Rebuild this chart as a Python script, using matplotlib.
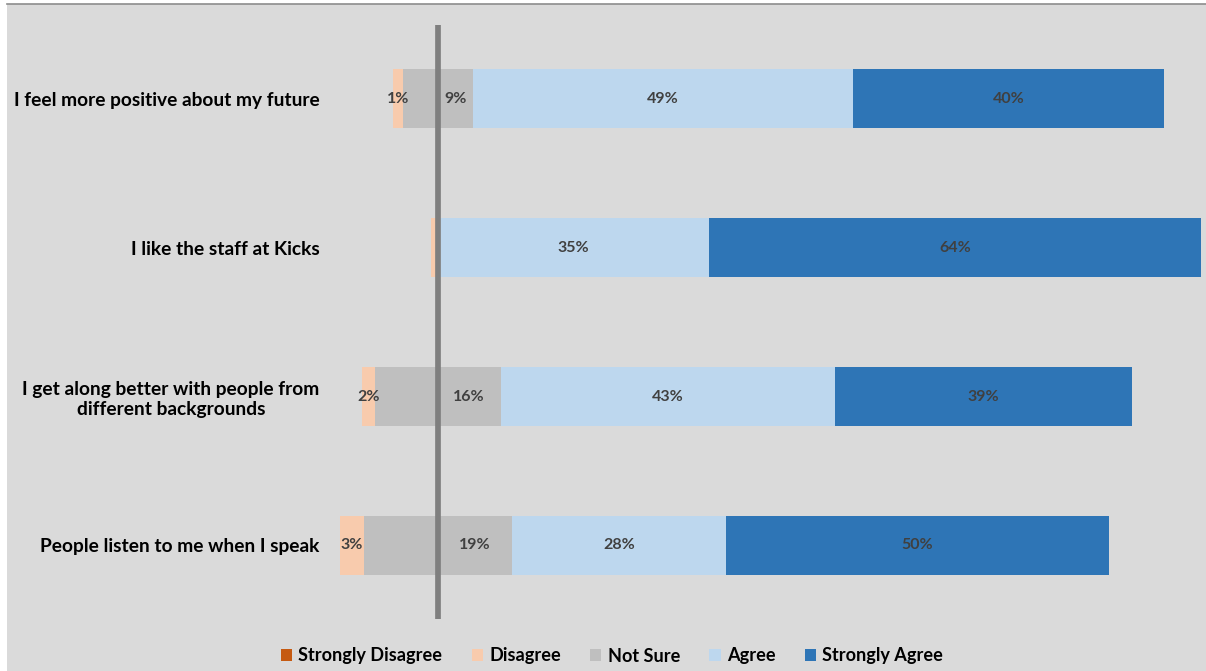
import matplotlib
matplotlib.use("Agg")
import matplotlib.pyplot as plt
from matplotlib.patches import Patch, Rectangle
import numpy as np

categories = [
    "I feel more positive about my future",
    "I like the staff at Kicks",
    "I get along better with people from\ndifferent backgrounds",
    "People listen to me when I speak",
]
series_names = ["Strongly Disagree", "Disagree", "Not Sure", "Agree", "Strongly Agree"]
strongly_disagree = [0.0, 0.0, 0.0, 0.0]
disagree = [1.35, 0.88, 1.73, 3.12]
not_sure = [9.05, 0.0, 16.32, 19.22]
agree = [49.4, 35.16, 43.4, 27.81]
strongly_agree = [40.3, 63.96, 38.6, 49.74]

colors = ["#c55a11", "#f8cbad", "#bfbfbf", "#bdd7ee", "#2e75b6"]
FONT = ["Lato", "DejaVu Sans"]
plt.rcParams["font.family"] = FONT

W, H = 1206, 671
fig = plt.figure(figsize=(W / 100, H / 100), dpi=100, facecolor="white")
# background panel
fig.patches.append(Rectangle((7 / W, 0), 1 - 7 / W, (H - 4) / H, transform=fig.transFigure,
                             facecolor="#dadada", edgecolor="none", zorder=-5))
fig.lines.append(plt.Line2D([7 / W, 1], [(H - 4) / H] * 2, transform=fig.transFigure,
                            color="#8c8c8c", lw=1.2, zorder=-4))

ax = fig.add_axes([335 / W, (H - 619) / H, 871 / W, 594 / H])
ax.set_zorder(3)
ax.set_facecolor("none")
for s in ax.spines.values():
    s.set_visible(False)

y = np.arange(len(categories))
sd = np.array(strongly_disagree)
d = np.array(disagree)
ns = np.array(not_sure)
a = np.array(agree)
sa = np.array(strongly_agree)

h = 0.4
# negative side
left_ns = -ns / 2
left_d = left_ns - d
left_sd = left_d - sd
ax.barh(y, sd, left=left_sd, height=h, color=colors[0], zorder=2)
ax.barh(y, d, left=left_d, height=h, color=colors[1], zorder=2)
ax.barh(y, ns, left=left_ns, height=h, color=colors[2], zorder=2)
ax.barh(y, a, left=ns / 2, height=h, color=colors[3], zorder=2)
ax.barh(y, sa, left=ns / 2 + a, height=h, color=colors[4], zorder=2)

lab_kw = dict(ha="center", va="center", color="#404040", fontsize=11.5, fontweight="bold", zorder=4)
for i in range(len(categories)):
    if sd[i] >= 1:
        ax.text(left_sd[i] + sd[i] / 2, y[i], f"{sd[i]:.0f}%", **lab_kw)
    if d[i] >= 1:
        ax.text(left_d[i] + d[i] / 2, y[i], f"{d[i]:.0f}%", **lab_kw)
    if ns[i] >= 1:
        ax.text(ns[i] / 4, y[i], f"{ns[i]:.0f}%", **lab_kw)
    if a[i] >= 1:
        ax.text(ns[i] / 2 + a[i] / 2, y[i], f"{a[i]:.0f}%", **lab_kw)
    if sa[i] >= 1:
        ax.text(ns[i] / 2 + a[i] + sa[i] / 2, y[i], f"{sa[i]:.0f}%", **lab_kw)

ax.axvline(0, color="#7f7f7f", lw=4.1, zorder=3)

ax.set_xlim(-13.35, 99.74)
ax.set_ylim(3.494, -0.495)
ax.set_xticks([])
ax.set_yticks(y)
ax.set_yticklabels(categories, fontsize=13.8, fontweight="bold", color="black",
                   multialignment="center")
ax.tick_params(axis="y", length=0, pad=11)

handles = [Patch(facecolor=c, edgecolor="none") for c in colors]
fig.legend(handles, series_names, loc="center", bbox_to_anchor=(612 / W, (H - 656) / H),
           ncol=5, frameon=False, handlelength=0.62, handleheight=0.62,
           handletextpad=0.35, columnspacing=1.6, prop={"weight": "bold", "size": 13.1})

fig.savefig("out.png", dpi=100, facecolor="white")
